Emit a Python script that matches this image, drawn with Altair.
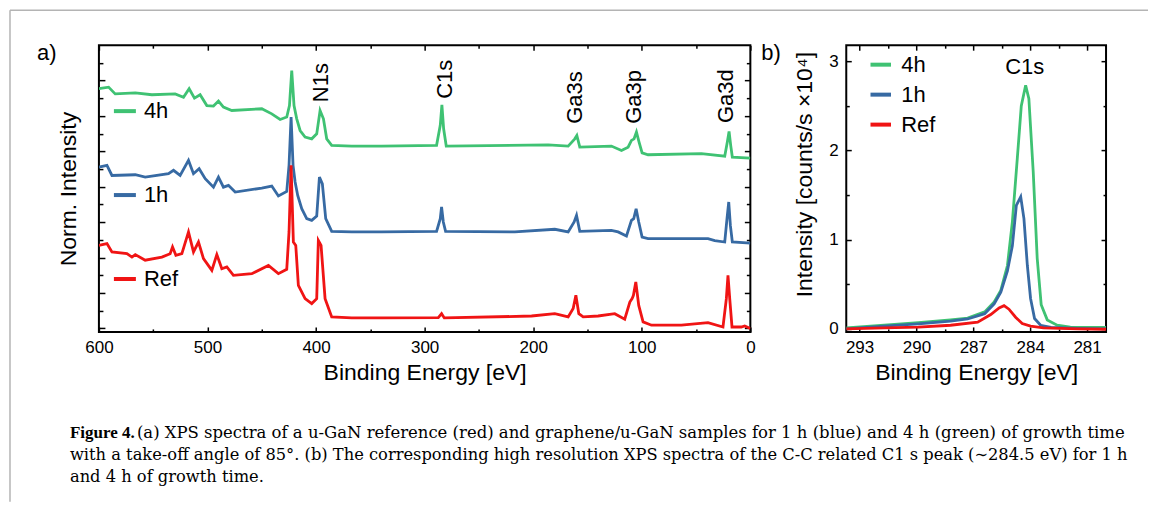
import altair as alt
import pandas as pd

# ---------------- Panel (a): XPS survey spectra (normalised, offset) ----------------
ref_E = [600, 592.6, 588.0, 574.2, 569.6, 566.5, 557.4, 542.0, 534.4, 532.2, 529.1, 523.6,
         517.5, 512.9, 508.3, 503.7, 496.0, 491.4, 486.8, 482.2, 476.1, 459.2, 443.9, 434.7,
         427.0, 424.9, 423.0, 420.9, 418.7, 416.3, 410.1, 404.0, 399.4, 397.9, 395.4, 391.7,
         385.6, 367.2, 339.6, 287.4, 284.4, 281.9, 201.5, 180.1, 167.8, 163.2, 160.7, 158.0,
         154.0, 140.2, 124.9, 115.7, 111.0, 108.9, 107.7, 105.5, 102.8, 98.8, 91.1, 63.5,
         39.0, 25.2, 22.1, 20.6, 19.0, 16.9, 8.3, 5.2, 0]
ref_I = [4.69, 4.79, 4.32, 4.22, 4.03, 4.17, 3.85, 4.03, 4.22, 4.60, 4.13, 4.22,
         5.45, 4.32, 4.88, 3.94, 3.28, 4.17, 3.37, 3.47, 3.00, 3.09, 3.56, 3.09,
         3.34, 5.45, 9.21, 4.88, 4.69, 2.43, 1.68, 1.40, 1.68, 4.97, 4.69, 1.68,
         0.65, 0.59, 0.59, 0.61, 0.83, 0.59, 0.70, 0.83, 0.65, 1.12, 1.87, 0.83,
         0.65, 0.70, 0.83, 0.52, 1.49, 1.68, 1.87, 2.62, 1.30, 0.37, 0.18, 0.18,
         0.33, 0.08, 1.68, 3.00, 1.68, 0.08, 0.08, 0.14, -0.01]

h1_E = [600, 592.6, 588.0, 566.5, 557.4, 535.9, 531.3, 525.2, 517.5, 512.9, 507.7, 502.1,
        494.5, 489.9, 485.3, 480.7, 474.5, 450.0, 440.8, 434.7, 427.0, 424.9, 423.0, 421.2,
        419.3, 416.9, 413.2, 408.6, 404.0, 399.4, 396.9, 394.2, 391.1, 385.6, 367.2, 339.6,
        289.0, 285.6, 284.4, 282.8, 280.7, 216.9, 180.1, 167.8, 162.3, 160.1, 157.1, 128.0,
        121.8, 114.1, 109.5, 107.4, 105.2, 102.8, 99.7, 94.2, 39.0, 32.8, 23.6, 21.5,
        19.9, 18.4, 16.6, 0]
h1_I = [9.11, 9.21, 8.64, 8.68, 8.55, 8.74, 8.93, 8.64, 9.49, 8.74, 9.02, 8.46,
        7.98, 8.55, 7.98, 8.08, 7.70, 7.93, 8.04, 7.48, 7.74, 9.21, 11.94, 9.21,
        8.27, 7.51, 6.76, 6.20, 6.10, 6.35, 8.55, 8.17, 6.20, 5.48, 5.45, 5.45,
        5.48, 6.20, 6.86, 6.01, 5.48, 5.45, 5.60, 5.45, 6.01, 6.38, 5.48, 5.54,
        5.45, 5.22, 6.10, 6.20, 6.76, 6.01, 5.16, 5.07, 5.07, 4.96, 4.88, 6.20,
        7.14, 5.82, 4.88, 4.82]

h4_E = [600, 591.1, 585.0, 566.5, 551.2, 529.8, 522.1, 516.9, 512.0, 506.8, 500.6, 494.5,
        489.9, 485.3, 477.6, 450.0, 440.8, 433.1, 427.0, 424.5, 422.4, 420.3, 417.8, 414.7,
        410.1, 404.0, 399.4, 396.3, 393.2, 390.2, 385.6, 367.2, 339.6, 289.0, 285.6, 284.1,
        282.5, 280.1, 186.2, 167.8, 161.7, 159.8, 157.1, 128.0, 118.7, 112.6, 109.5, 107.1,
        104.9, 102.5, 99.7, 94.2, 45.1, 23.6, 21.2, 19.6, 18.1, 16.6, 0]
h4_I = [13.54, 13.63, 13.25, 13.31, 13.20, 13.25, 13.06, 13.54, 13.01, 13.20, 12.59, 12.56,
        12.84, 12.50, 12.31, 12.41, 12.12, 11.80, 11.94, 12.59, 14.57, 12.59, 11.84, 11.18,
        10.81, 10.71, 10.99, 12.31, 11.84, 10.71, 10.34, 10.30, 10.30, 10.34, 11.47, 12.63,
        11.28, 10.30, 10.37, 10.30, 10.71, 10.90, 10.24, 10.30, 10.05, 10.24, 10.62, 10.71,
        11.09, 10.53, 9.92, 9.81, 9.87, 9.73, 10.53, 11.13, 10.34, 9.68, 9.62]

peak_labels = ["N1s", "C1s", "Ga3s", "Ga3p", "Ga3d"]
peak_E = [395.0, 281.3, 161.1, 106.7, 22.7]
peak_I = [12.78, 12.97, 11.56, 11.56, 11.60]

# ---------------- Panel (b): high resolution C1s ----------------
b4_E = [293.7, 291.7, 289.9, 288.2, 287.3, 286.4, 285.9, 285.55, 285.2, 284.94, 284.68, 284.47,
        284.24, 284.07, 283.84, 283.63, 283.42, 283.1, 282.58, 281.88, 280.0]
b4_I = [0.011, 0.04, 0.07, 0.10, 0.12, 0.19, 0.30, 0.43, 0.71, 1.20, 1.91, 2.50,
        2.73, 2.58, 1.76, 0.79, 0.27, 0.10, 0.04, 0.02, 0.015]
b1_E = [293.7, 291.7, 289.9, 288.2, 287.3, 286.4, 285.9, 285.55, 285.2, 284.94, 284.73, 284.5,
        284.33, 284.15, 283.98, 283.77, 283.45, 282.9, 281.5, 280.0]
b1_I = [0.0, 0.03, 0.055, 0.085, 0.11, 0.17, 0.28, 0.41, 0.65, 0.93, 1.385, 1.48,
        1.235, 0.71, 0.34, 0.115, 0.04, 0.015, 0.005, 0.0]
bR_E = [293.7, 291.7, 289.9, 288.2, 286.77, 286.08, 285.64, 285.38, 285.12, 284.77, 284.42,
        283.98, 283.3, 281.5, 280.0]
bR_I = [0.0, 0.01, 0.02, 0.04, 0.075, 0.16, 0.235, 0.26, 0.22, 0.13, 0.06,
        0.03, 0.01, 0.0, -0.005]

samples = ["4h", "1h", "Ref"]
colors = ["#3fc273", "#376aa3", "#f01414"]

caption_bold = "Figure 4."
caption_l1 = ("(a) XPS spectra of a u-GaN reference (red) and graphene/u-GaN samples for 1 h "
              "(blue) and 4 h (green) of growth time")
caption_rest = ("with a take-off angle of 85°. (b) The corresponding high resolution XPS spectra "
                "of the C-C related C1 s peak (∼284.5 eV) for 1 h\nand 4 h of growth time.")

FONT = "Liberation Sans"
SERIF = "Liberation Serif"
CAPFONT = "DejaVu Serif"
WA, HA = 652, 287
WB, HB = 260, 287


def frame(series):
    rows = []
    for name, E, I in series:
        for e, i in zip(E, I):
            rows.append({"sample": name, "E": e, "I": i})
    return pd.DataFrame(rows)


dfa = frame([("4h", h4_E, h4_I), ("1h", h1_E, h1_I), ("Ref", ref_E, ref_I)])
dfb = frame([("4h", b4_E, b4_I), ("1h", b1_E, b1_I), ("Ref", bR_E, bR_I)])
dfpeaks = pd.DataFrame({"E": peak_E, "I": peak_I, "label": peak_labels})
one = pd.DataFrame({"k": [0]})


def tick_axes(orient_x, orient_y, xvals, yvals, xtest, ytest, xs, ys, W, H):
    ax = alt.Axis(orient=orient_x, offset=-H, values=xvals, labels=False, domain=False,
                  grid=False, title=None, tickColor="black", tickWidth=1.5,
                  tickSize={"condition": {"test": xtest, "value": xs[0]}, "value": xs[1]})
    ay = alt.Axis(orient=orient_y, offset=-W, values=yvals, labels=False, domain=False,
                  grid=False, title=None, tickColor="black", tickWidth=1.5,
                  tickSize={"condition": {"test": ytest, "value": ys[0]}, "value": ys[1]})
    return ax, ay


def panel(df, xscale, yscale, xmain, ymain, xticks, yticks, xtest, ytest, xs, ys, W, H, legend):
    color = alt.Color("sample:N", scale=alt.Scale(domain=samples, range=colors),
                      sort=samples, legend=legend)
    lines = alt.Chart(df).mark_line(strokeWidth=2.8, clip=True).encode(
        x=alt.X("E:Q", scale=xscale, axis=xmain),
        y=alt.Y("I:Q", scale=yscale, axis=ymain),
        color=color,
        order=alt.Order("E:Q"),
        detail="sample:N",
    )
    ax1, ay1 = tick_axes("top", "right", xticks, yticks, xtest, ytest, xs, ys, W, H)
    ax2, ay2 = tick_axes("bottom", "left", xticks, yticks, xtest, ytest, xs, ys, W, H)
    t1 = alt.Chart(df).mark_line(opacity=0).encode(
        x=alt.X("E:Q", scale=xscale, axis=ax1), y=alt.Y("I:Q", scale=yscale, axis=ay1))
    t2 = alt.Chart(df).mark_line(opacity=0).encode(
        x=alt.X("E:Q", scale=xscale, axis=ax2), y=alt.Y("I:Q", scale=yscale, axis=ay2))
    return [lines, t1, t2]


# ---------- panel A ----------
xsA = alt.Scale(domain=[0, 600], reverse=True, nice=False, zero=False)
ysA = alt.Scale(domain=[-0.2, 16], nice=False, zero=False)
xmainA = alt.Axis(orient="bottom", values=[0, 100, 200, 300, 400, 500, 600], format="d",
                  ticks=False, domain=False, grid=False, labelFontSize=17, labelPadding=8,
                  labelFlush=False, labelOverlap=False,
                  title="Binding Energy [eV]", titleFontSize=23, titleFontWeight="normal",
                  titlePadding=6, labelColor="black", titleColor="black")
ymainA = alt.Axis(orient="left", labels=False, ticks=False, domain=False, grid=False,
                  title="Norm. Intensity", titleFontSize=23, titleFontWeight="normal",
                  titlePadding=18, titleColor="black")
legA = alt.Legend(orient="none", legendX=13, legendY=53, title=None, symbolType="stroke",
                  symbolSize=484, symbolStrokeWidth=4, labelFontSize=22, labelFont=FONT,
                  rowPadding=60, labelOffset=6, labelColor="black")
layersA = panel(dfa, xsA, ysA, xmainA, ymainA,
                list(range(0, 601, 50)), list(range(0, 16)),
                "datum.value % 100 === 0", "datum.value % 2 === 0", (5, 3), (6, 4), WA, HA, legA)

peaks = alt.Chart(dfpeaks).mark_text(angle=270, align="left", baseline="middle",
                                     fontSize=22, font=FONT, color="black").encode(
    x=alt.X("E:Q", scale=xsA, axis=None), y=alt.Y("I:Q", scale=ysA, axis=None), text="label:N")

border_top = alt.Chart(one).mark_rule(color="#b4b4b4", strokeWidth=1.5).encode(
    x=alt.value(-89), x2=alt.value(1050), y=alt.value(-35))
border_left = alt.Chart(one).mark_rule(color="#b4b4b4", strokeWidth=1.5).encode(
    x=alt.value(-89), y=alt.value(-35), y2=alt.value(457))
lab_a = alt.Chart(one).mark_text(align="left", baseline="alphabetic", fontSize=22,
                                 font=FONT, color="black").encode(
    x=alt.value(-62), y=alt.value(15), text=alt.value("a)"))
cap0 = alt.Chart(one).mark_text(align="left", baseline="alphabetic", fontSize=17, font=SERIF,
                                fontWeight="bold", color="black").encode(
    x=alt.value(-29), y=alt.value(393), text=alt.value(caption_bold))
cap1 = alt.Chart(one).mark_text(align="left", baseline="alphabetic", fontSize=16.5,
                                font=CAPFONT, color="black").encode(
    x=alt.value(38), y=alt.value(393), text=alt.value(caption_l1))
cap2 = alt.Chart(one).mark_text(align="left", baseline="alphabetic", fontSize=16.3,
                                font=CAPFONT, color="black", lineBreak="\n",
                                lineHeight=22.5).encode(
    x=alt.value(-29), y=alt.value(415), text=alt.value(caption_rest))

chartA = alt.layer(*layersA, peaks, border_top, border_left, lab_a, cap0, cap1, cap2).resolve_axis(
    x="independent", y="independent").properties(width=WA, height=HA)

# ---------- panel B ----------
xsB = alt.Scale(domain=[280.0, 293.7], reverse=True, nice=False, zero=False)
ysB = alt.Scale(domain=[-0.035, 3.18], nice=False, zero=False)
xmainB = alt.Axis(orient="bottom", values=[281, 284, 287, 290, 293], format="d",
                  ticks=False, domain=False, grid=False, labelFontSize=17, labelPadding=8,
                  labelFlush=False, labelOverlap=False,
                  title="Binding Energy [eV]", titleFontSize=23, titleFontWeight="normal",
                  titlePadding=6, labelColor="black", titleColor="black")
ymainB = alt.Axis(orient="left", values=[0, 1, 2, 3], format="d", ticks=False, domain=False,
                  grid=False, labelFontSize=17, labelPadding=8, labelFlush=False,
                  title="Intensity [counts/s ×10⁴]", titleFontSize=23,
                  titleFontWeight="normal", titlePadding=12, titleY=129, labelColor="black",
                  titleColor="black")
legB = alt.Legend(orient="none", legendX=22, legendY=7, title=None, symbolType="stroke",
                  symbolSize=420, symbolStrokeWidth=4, labelFontSize=22, labelFont=FONT,
                  rowPadding=6, labelOffset=8, labelColor="black")
layersB = panel(dfb, xsB, ysB, xmainB, ymainB,
                [281, 282.5, 284, 285.5, 287, 288.5, 290, 291.5, 293],
                [0, 0.5, 1, 1.5, 2, 2.5, 3],
                "(293 - datum.value) % 3 === 0", "datum.value % 1 === 0", (5, 3), (5, 3),
                WB, HB, legB)
c1s = alt.Chart(pd.DataFrame({"E": [284.29], "I": [2.93], "label": ["C1s"]})).mark_text(
    align="center", baseline="middle", fontSize=22, font=FONT, color="black").encode(
    x=alt.X("E:Q", scale=xsB, axis=None), y=alt.Y("I:Q", scale=ysB, axis=None), text="label:N")
lab_b = alt.Chart(one).mark_text(align="left", baseline="alphabetic", fontSize=22,
                                 font=FONT, color="black").encode(
    x=alt.value(-85), y=alt.value(15), text=alt.value("b)"))

chartB = alt.layer(*layersB, c1s, lab_b).resolve_axis(
    x="independent", y="independent").properties(width=WB, height=HB)

chart = alt.hconcat(chartA, chartB, spacing=96, bounds="flush").resolve_scale(
    color="independent").resolve_legend(color="independent").properties(
    padding=0, background="white").configure(font=FONT).configure_view(
    stroke="black", strokeWidth=2)

chart.save("out.html", embed_options={"renderer": "svg", "actions": False})
